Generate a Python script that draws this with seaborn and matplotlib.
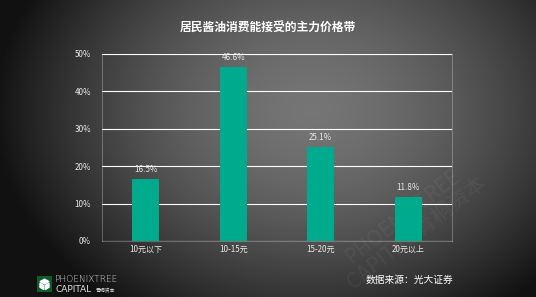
import numpy as np
import pandas as pd
import matplotlib
matplotlib.use("Agg")
import matplotlib.pyplot as plt
import seaborn as sns

categories = ["10元以下", "10-15元", "15-20元", "20元以上"]
values = [16.5, 46.6, 25.1, 11.8]
yticks = [0, 10, 20, 30, 40, 50]
title = "居民酱油消费能接受的主力价格带"
source = "数据来源：光大证券"

sns.set_theme(style="white")
plt.rcParams['font.family'] = ['Noto Sans CJK SC', 'DejaVu Sans']

W, H = 536, 297
fig = plt.figure(figsize=(W / 100, H / 100), dpi=100)

# background radial gradient
bg = fig.add_axes([0, 0, 1, 1], zorder=-10)
yy, xx = np.mgrid[0:H, 0:W]
cx, cy = 310, 110
r = np.sqrt(((xx - cx) / 300.0) ** 2 + ((yy - cy) / 230.0) ** 2)
v = np.clip(0.46 - 0.36 * r ** 1.6, 0.07, 0.5)
img = np.dstack([v, v, v])
bg.imshow(img, extent=[0, W, H, 0], aspect='auto', interpolation='bilinear')
bg.set_xlim(0, W)
bg.set_ylim(H, 0)
bg.axis('off')

# watermark
bg.text(410, 225, "PHOENIXTREE\nCAPITAL 青桐资本", rotation=38, fontsize=15,
        color=(1, 1, 1, 0.05), ha='center', va='center', linespacing=1.0)

ax = fig.add_axes([102 / W, 1 - 241 / H, (452 - 102) / W, (241 - 54) / H])
ax.patch.set_alpha(0)
df = pd.DataFrame({"cat": categories, "val": values})
sns.barplot(data=df, x="cat", y="val", color="#00AA8D", width=0.31,
            saturation=1, ax=ax, zorder=3, edgecolor='none', linewidth=0)
ax.set_ylim(0, 50)
ax.set_yticks(yticks)
ax.set_yticklabels([f"{t}%" for t in yticks])
ax.set_xlabel("")
ax.set_ylabel("")
ax.grid(axis='y', color=(1, 1, 1, 0.2), linewidth=0.8, zorder=0)
for s in ax.spines.values():
    s.set_visible(True)
    s.set_color((1, 1, 1, 0.25))
    s.set_linewidth(0.8)
ax.tick_params(axis='both', length=0, labelsize=5.8, colors='#e8e8e8', pad=3)
ax.tick_params(axis='y', pad=8)
for p, val in zip(ax.patches, values):
    ax.text(p.get_x() + p.get_width() / 2, p.get_height() + 1.3, f"{val}%",
            ha='center', va='bottom', fontsize=5.8, color='#e8e8e8')

fig.text(0.5, 1 - 27 / H, title, ha='center', va='center', fontsize=8.5,
         fontweight='bold', color='white')
fig.text(453 / W, 1 - 280 / H, source, ha='right', va='center', fontsize=7,
         color='white')

# logo
lg = fig.add_axes([37 / W, 1 - 292 / H, 15 / W, 16 / H])
lg.set_facecolor('#0d5c2e')
lg.set_xticks([]); lg.set_yticks([])
for s in lg.spines.values():
    s.set_visible(False)
lg.fill([0.2, 0.5, 0.8, 0.5], [0.65, 0.8, 0.65, 0.5], color='white')
lg.fill([0.2, 0.45, 0.45, 0.2], [0.55, 0.4, 0.15, 0.3], color='white')
lg.fill([0.55, 0.8, 0.8, 0.55], [0.4, 0.55, 0.3, 0.15], color='white')
lg.set_xlim(0, 1); lg.set_ylim(0, 1)
fig.text(55 / W, 1 - 280 / H, "PHOENIXTREE", fontsize=6.5, color='#dddddd',
         va='center', ha='left', family=['DejaVu Sans'], fontweight='light')
fig.text(55 / W, 1 - 289.5 / H, "CAPITAL", fontsize=6.5, color='#dddddd',
         va='center', ha='left', family=['DejaVu Sans'])
fig.text(96 / W, 1 - 290 / H, "青桐资本", fontsize=3.5, color='#dddddd',
         va='center', ha='left')

fig.savefig("out.png", dpi=100)
